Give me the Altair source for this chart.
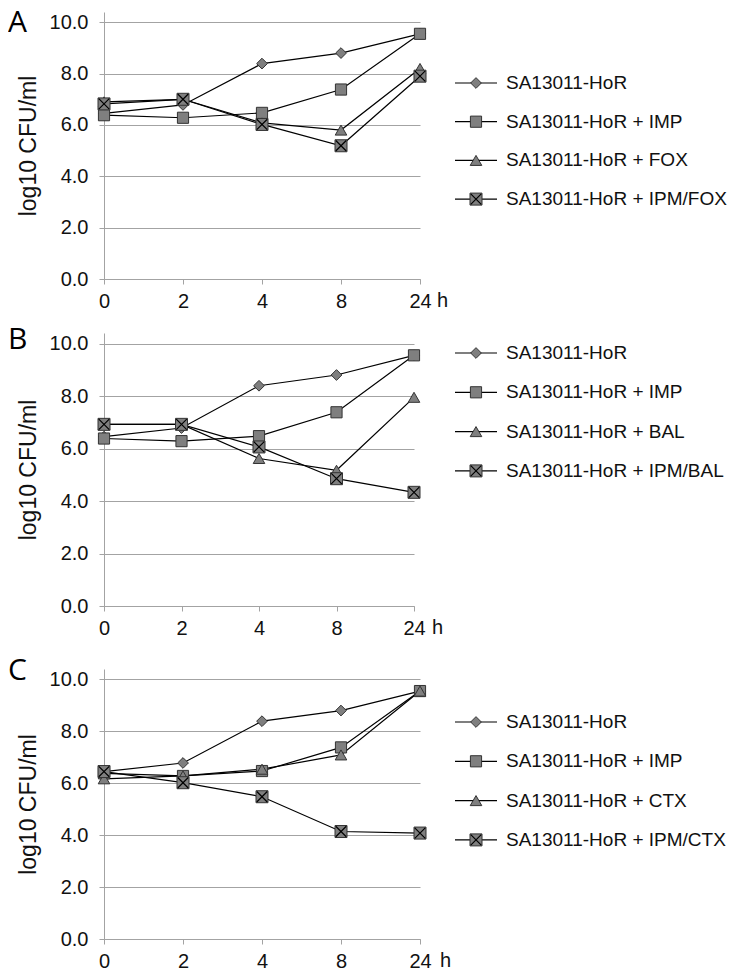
import altair as alt
import pandas as pd

hours = ["0", "2", "4", "8", "24"]

names_a = ["SA13011-HoR", "SA13011-HoR + IMP", "SA13011-HoR + FOX", "SA13011-HoR + IPM/FOX"]
names_b = ["SA13011-HoR", "SA13011-HoR + IMP", "SA13011-HoR + BAL", "SA13011-HoR + IPM/BAL"]
names_c = ["SA13011-HoR", "SA13011-HoR + IMP", "SA13011-HoR + CTX", "SA13011-HoR + IPM/CTX"]

hor = [6.45, 6.78, 8.39, 8.80, 9.55]
imp = [6.38, 6.28, 6.47, 7.38, 9.55]
fox = [6.90, 7.00, 6.08, 5.80, 8.20]
ipm_fox = [6.82, 7.00, 6.02, 5.19, 7.90]
bal = [6.92, 6.92, 5.62, 5.17, 7.95]
ipm_bal = [6.92, 6.92, 6.06, 4.85, 4.33]
ctx = [6.17, 6.28, 6.54, 7.09, 9.55]
ipm_ctx = [6.45, 6.02, 5.48, 4.14, 4.08]

y_ticks = [0, 2, 4, 6, 8, 10]

FONT = "Liberation Sans"
GRAY = "#a3a3a3"
FILL = "#7f7f7f"
EDGE = "#333333"
X_PATH = "M-1,-1L1,1M-1,1L1,-1"
SHAPES = ["diamond", "square", "triangle-up", "square"]
SIZES = [115, 144, 150, 144]


def panel(letter, names, series, width, height, leg_first, leg_step, letter_top, h_x):
    rows = []
    for name, vals in zip(names, series):
        for i, (h, v) in enumerate(zip(hours, vals)):
            rows.append({"series": name, "hour": h, "hidx": i, "value": v})
    df = pd.DataFrame(rows)
    ldf = pd.DataFrame({"series": names, "idx": list(range(len(names)))})
    tdf = pd.DataFrame({"letter": [letter]})

    x_enc = alt.X(
        "hour:O",
        sort=hours,
        scale=alt.Scale(type="point", domain=hours, padding=0),
        axis=alt.Axis(
            title="h", titleX=h_x, titleY=21, titleAlign="center", titleBaseline="middle",
            titleFont=FONT, titleFontSize=20, titleFontWeight="normal", titleColor="#111111",
            labelAngle=0, labelFont=FONT, labelFontSize=20, labelColor="#111111",
            labelPadding=7, tickSize=5, tickColor=GRAY, domainColor=GRAY, grid=False,
        ),
    )
    yscale = alt.Scale(domain=[0, 10.4], nice=False, zero=False)
    y_axis = alt.Axis(
        values=y_ticks, format=".1f", title="log10 CFU/ml",
        titleFont=FONT, titleFontSize=23, titleFontWeight="normal", titleColor="#111111",
        titlePadding=9, labelFont=FONT, labelFontSize=20, labelColor="#111111",
        labelPadding=11, tickSize=5, tickColor=GRAY, domainColor=GRAY,
        grid=True, gridColor=GRAY, gridWidth=1,
    )

    shape_enc = alt.Shape("series:N", scale=alt.Scale(domain=names, range=SHAPES), legend=None)
    size_enc = alt.Size("series:N", scale=alt.Scale(domain=names, range=SIZES), legend=None)

    lines = alt.Chart(df).mark_line(color="black", strokeWidth=1.2).encode(
        x=x_enc, y=alt.Y("value:Q", scale=yscale, axis=y_axis),
        detail="series:N", order="hidx:Q",
    )
    pts = alt.Chart(df).mark_point(
        filled=True, fill=FILL, stroke=EDGE, strokeWidth=1, opacity=1, fillOpacity=1
    ).encode(
        x=x_enc, y=alt.Y("value:Q", scale=yscale, axis=None), shape=shape_enc, size=size_enc,
    )
    xs = alt.Chart(df).transform_filter(alt.datum.series == names[3]).mark_point(
        shape=X_PATH, filled=False, stroke="black", strokeWidth=1.2, size=110, opacity=1
    ).encode(x=x_enc, y=alt.Y("value:Q", scale=yscale, axis=None))

    d0 = -leg_first / leg_step
    d1 = d0 + height / leg_step
    lscale = alt.Scale(domain=[d0, d1], reverse=True, nice=False, zero=False)
    ly = alt.Y("idx:Q", scale=lscale, axis=None)
    lx0, lx1, lxm, ltx = 351, 393, 372, 402

    lrule = alt.Chart(ldf).mark_rule(color="black", strokeWidth=1.2).encode(
        x=alt.value(lx0), x2=alt.value(lx1), y=ly
    )
    lpts = alt.Chart(ldf).mark_point(
        filled=True, fill=FILL, stroke=EDGE, strokeWidth=1, opacity=1, fillOpacity=1
    ).encode(x=alt.value(lxm), y=ly, shape=shape_enc, size=size_enc)
    lxs = alt.Chart(ldf).transform_filter(alt.datum.series == names[3]).mark_point(
        shape=X_PATH, filled=False, stroke="black", strokeWidth=1.2, size=110, opacity=1
    ).encode(x=alt.value(lxm), y=ly)
    ltext = alt.Chart(ldf).mark_text(
        align="left", baseline="middle", font=FONT, fontSize=19, color="#111111"
    ).encode(x=alt.value(ltx), y=ly, text="series:N")

    ltr = alt.Chart(tdf).mark_text(
        align="left", baseline="top", font="Open Sans", fontSize=30, color="#000000"
    ).encode(x=alt.value(-96), y=alt.value(letter_top), text="letter:N")

    return alt.layer(lines, pts, xs, lrule, lpts, lxs, ltext, ltr).resolve_scale(
        y="independent"
    ).properties(width=width, height=height)


pa = panel("A", names_a, [hor, imp, fox, ipm_fox], 316, 267, 71, 38.7, -4, 338)
pb = panel("B", names_b, [hor, imp, bal, ipm_bal], 310, 273, 20, 39.3, -8, 333)
pc = panel("C", names_c, [hor, imp, ctx, ipm_ctx], 316, 270, 53, 39.3, -13, 341)

top_two = alt.vconcat(pa, pb, spacing=14).resolve_scale(shape="independent", size="independent")

chart = alt.vconcat(top_two, pc, spacing=18).resolve_scale(
    shape="independent", size="independent"
).properties(
    padding={"left": 0, "top": 0, "right": 0, "bottom": 0}, background="white"
).configure_view(strokeWidth=0)

chart.save("out.html", embed_options={"renderer": "svg", "actions": False})
